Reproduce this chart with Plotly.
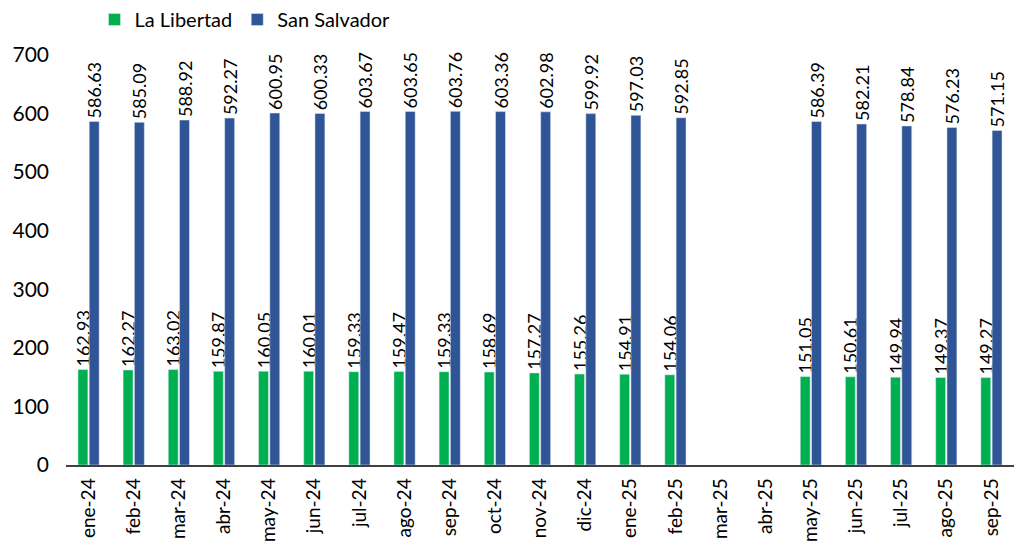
import plotly.graph_objects as go

# Meses y valores por departamento
meses = ["ene-24", "feb-24", "mar-24", "abr-24", "may-24", "jun-24", "jul-24",
         "ago-24", "sep-24", "oct-24", "nov-24", "dic-24", "ene-25", "feb-25",
         "mar-25", "abr-25", "may-25", "jun-25", "jul-25", "ago-25", "sep-25"]
la_libertad = [162.93, 162.27, 163.02, 159.87, 160.05, 160.01, 159.33, 159.47,
               159.33, 158.69, 157.27, 155.26, 154.91, 154.06, None, None,
               151.05, 150.61, 149.94, 149.37, 149.27]
san_salvador = [586.63, 585.09, 588.92, 592.27, 600.95, 600.33, 603.67, 603.65,
                603.76, 603.36, 602.98, 599.92, 597.03, 592.85, None, None,
                586.39, 582.21, 578.84, 576.23, 571.15]

fuente = "Lato"

def etiquetas(valores):
    return ["" if v is None else f"{v:.2f}" for v in valores]

fig = go.Figure()

fig.add_trace(go.Bar(
    x=meses, y=la_libertad, name="La Libertad",
    marker=dict(color="#00B050"),
    text=etiquetas(la_libertad), textposition="outside", textangle=-90,
    textfont=dict(family=fuente, size=18, color="#000000"),
    cliponaxis=False, constraintext="none",
))

fig.add_trace(go.Bar(
    x=meses, y=san_salvador, name="San Salvador",
    marker=dict(color="#2F5597"),
    text=etiquetas(san_salvador), textposition="outside", textangle=-90,
    textfont=dict(family=fuente, size=18, color="#000000"),
    cliponaxis=False, constraintext="none",
))

fig.update_layout(
    width=1016, height=554,
    margin=dict(l=66, r=2, t=55, b=89, autoexpand=False),
    plot_bgcolor="white", paper_bgcolor="white",
    font=dict(family=fuente, size=20, color="#000000"),
    barmode="group", bargap=0.5, bargroupgap=0.12,
    showlegend=True,
    legend=dict(orientation="h", x=0.093, xanchor="left", xref="container",
                y=1.0, yanchor="top", yref="container",
                font=dict(family=fuente, size=20), itemwidth=30),
    xaxis=dict(
        type="category", tickangle=-90, showgrid=False, automargin=False,
        showline=True, linecolor="#404040", linewidth=1.5, ticks="",
        tickfont=dict(family=fuente, size=19), ticklabelstandoff=4,
    ),
    yaxis=dict(
        range=[0, 700], dtick=100, showgrid=False, zeroline=False,
        automargin=False, showline=False, ticks="",
        tickfont=dict(family=fuente, size=21), ticklabelstandoff=16,
    ),
)

# quitar el margen del body para que la figura quede en (0, 0)
fig.write_html("out.html", config={"displayModeBar": False},
               post_script="document.body.style.margin='0';")
